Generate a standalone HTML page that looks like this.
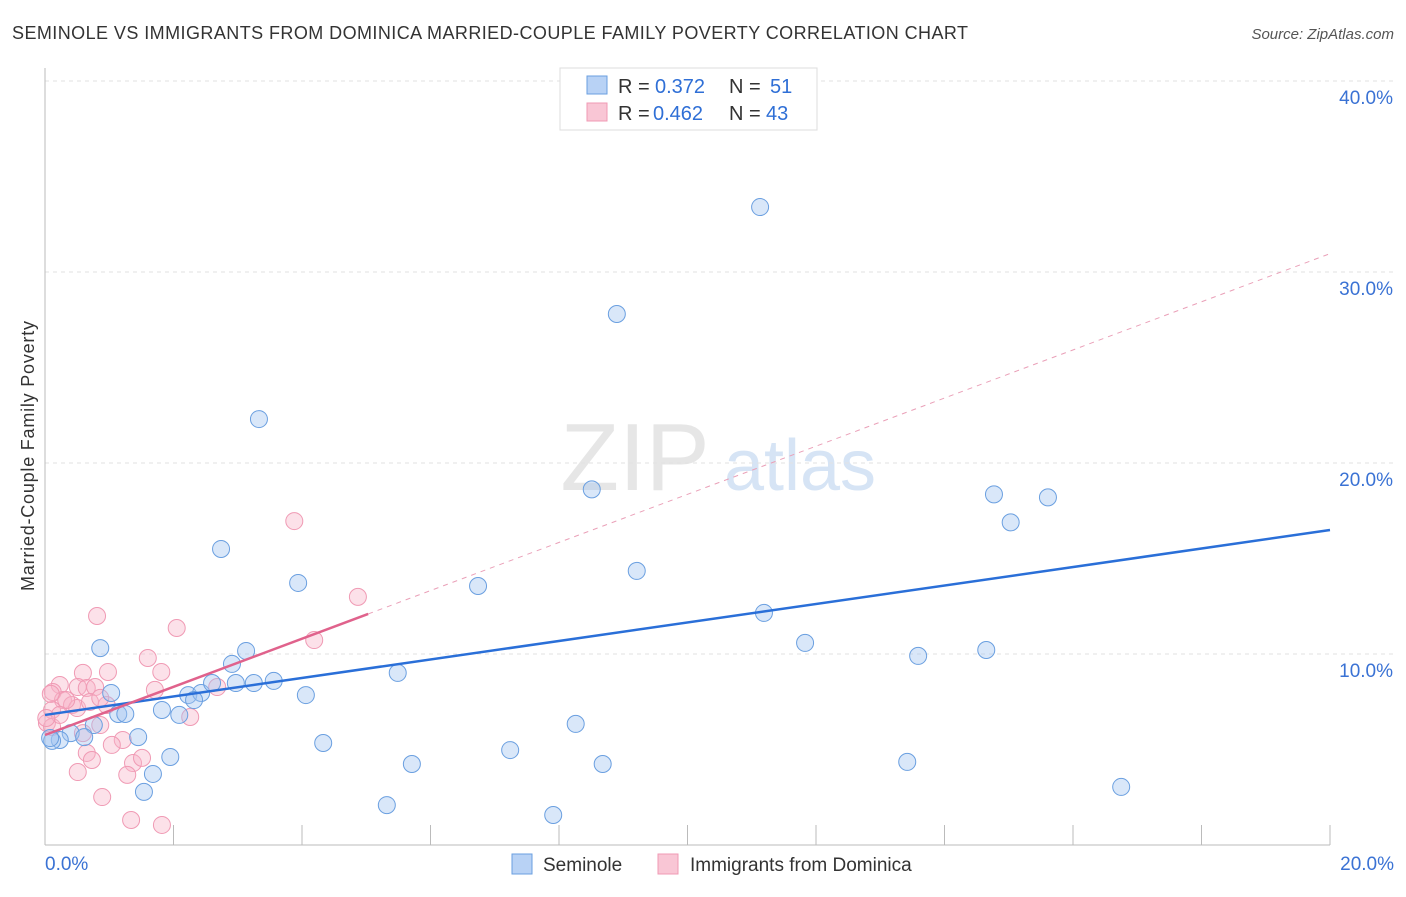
<!DOCTYPE html>
<html><head><meta charset="utf-8"><style>
body{margin:0;background:#fff;font-family:"Liberation Sans",sans-serif;}
svg text{font-family:"Liberation Sans",sans-serif;}
</style></head><body>
<svg id="chart" width="1406" height="892" xmlns="http://www.w3.org/2000/svg">
<text x="12" y="39" font-size="18" fill="#333" textLength="956" lengthAdjust="spacing">SEMINOLE VS IMMIGRANTS FROM DOMINICA MARRIED-COUPLE FAMILY POVERTY CORRELATION CHART</text>
<text x="1394" y="39" font-size="15" fill="#555" text-anchor="end" font-style="italic">Source: ZipAtlas.com</text>
<text transform="translate(34,456) rotate(-90)" font-size="18" fill="#333" text-anchor="middle" textLength="270">Married-Couple Family Poverty</text>
<g><text x="635" y="490" font-size="96" fill="#e6e6e6" font-family="Liberation Serif" text-anchor="middle">ZIP</text><text x="800" y="490" font-size="72" fill="#d6e4f5" text-anchor="middle">atlas</text></g>
<g id="grid"></g><g id="axes"></g><g id="trend"></g><g id="pts"></g>
<g>
<rect x="560" y="68" width="257" height="62" fill="#fff" stroke="#ddd"/>
<rect x="587" y="76" width="20" height="18" fill="#b8d2f5" stroke="#6a9fe0"/>
<text x="618" y="93" font-size="20" fill="#333">R =</text><text x="655" y="93" font-size="20" fill="#2f6fd6">0.372</text>
<text x="729" y="93" font-size="20" fill="#333">N =</text><text x="770" y="93" font-size="20" fill="#2f6fd6">51</text>
<rect x="587" y="103" width="20" height="18" fill="#f9c6d5" stroke="#f09ab4"/>
<text x="618" y="120" font-size="20" fill="#333">R =</text><text x="653" y="120" font-size="20" fill="#2f6fd6">0.462</text>
<text x="729" y="120" font-size="20" fill="#333">N =</text><text x="766" y="120" font-size="20" fill="#2f6fd6">43</text>
</g>
<g>
<rect x="512" y="854" width="20" height="20" fill="#b8d2f5" stroke="#6a9fe0"/>
<text x="543" y="871" font-size="19" fill="#333">Seminole</text>
<rect x="658" y="854" width="20" height="20" fill="#f9c6d5" stroke="#f09ab4"/>
<text x="690" y="871" font-size="19" fill="#333">Immigrants from Dominica</text>
</g>
</svg>
<script>
const xTicks=[0,20];
const yTicks=[10,20,30,40];
const seminoleX=[11.13,8.90,3.33,8.51,14.77,15.61,15.03,2.74,9.21,3.94,6.74,11.19,0.86,11.83,3.13,13.59,14.65,2.91,5.49,1.03,2.23,2.43,2.60,2.97,3.25,3.56,4.06,2.32,1.82,1.14,1.25,2.09,8.26,0.76,0.40,1.45,0.23,0.11,0.61,4.33,7.24,1.95,5.71,8.68,13.42,1.68,1.54,16.75,5.32,7.91,0.08];
const seminoleY=[33.40,27.80,22.30,18.62,18.36,18.20,16.89,15.50,14.35,13.72,13.56,12.15,10.31,10.58,10.16,9.90,10.21,9.48,9.01,7.96,7.85,7.96,8.48,8.48,8.48,8.59,7.85,7.59,7.07,6.86,6.86,6.81,6.34,6.28,5.86,5.65,5.50,5.45,5.65,5.34,4.97,4.61,4.24,4.24,4.35,3.72,2.78,3.04,2.09,1.57,5.60];
const dominicaX=[0.81,2.05,4.87,4.19,0.59,0.98,1.60,1.81,0.23,0.51,0.65,0.78,1.71,2.68,0.12,0.28,0.42,0.50,0.96,0.11,0.86,2.26,0.03,0.11,0.59,1.21,1.04,0.65,0.73,1.37,1.51,0.51,1.28,0.89,1.34,1.82,3.88,0.33,0.70,0.09,0.23,0.86,0.02];
const dominicaY=[11.99,11.36,12.99,10.73,9.01,9.06,9.79,9.06,8.38,8.27,8.22,8.27,8.12,8.27,8.01,7.59,7.33,7.17,7.33,7.07,6.28,6.70,6.39,6.18,5.86,5.50,5.24,4.82,4.45,4.29,4.56,3.82,3.67,2.51,1.31,1.05,16.96,7.59,7.49,7.91,6.81,7.70,6.65];
const seminoleTrend=[6.81,16.49]; // y at x=0 and x=20
const dominicaTrend=[5.76,30.96]; // y at x=0 and x=20
const dominicaSolidEnd=5.03;
const NS='http://www.w3.org/2000/svg';
const X=v=>45+v/20*1285, Y=v=>845-v*19.1;
function mk(tag,attrs,parent){const e=document.createElementNS(NS,tag);for(const k in attrs)e.setAttribute(k,attrs[k]);document.getElementById(parent).appendChild(e);return e;}
yTicks.forEach(t=>{
 const l=mk('line',{x1:45,x2:1393,y1:Y(t),y2:Y(t),stroke:'#e2e2e2','stroke-dasharray':'4,4'},'grid');
 
 
 const tx=mk('text',{x:1393,y:Y(t)+23,'font-size':19,fill:'#3a72d4','text-anchor':'end'},'grid');tx.textContent=t.toFixed(1)+'%';
 
 
});
mk('line',{x1:45,x2:45,y1:68,y2:845,stroke:'#bbb'},'axes');
mk('line',{x1:45,x2:1330,y1:845,y2:845,stroke:'#bbb'},'axes');
for(let i=1;i<=10;i++){mk('line',{x1:X(i*2),x2:X(i*2),y1:825,y2:845,stroke:'#bbb'},'axes');}
xTicks.forEach((t,i)=>{const tx=mk('text',{x:i?1394:45,y:870,'font-size':19,fill:'#3a72d4','text-anchor':i?'end':'start'},'axes');tx.textContent=t.toFixed(1)+'%';
 
 });
const sd=(dominicaTrend[1]-dominicaTrend[0])/20;
const pd=mk('line',{x1:X(dominicaSolidEnd),y1:Y(dominicaTrend[0]+sd*dominicaSolidEnd),x2:X(20),y2:Y(dominicaTrend[1]),stroke:'#eaa0b8','stroke-width':1,'stroke-dasharray':'5,5'},'trend');


function pts(xs,ys,fill,stroke,name){xs.forEach((x,i)=>{const c=mk('circle',{cx:X(x),cy:Y(ys[i]),r:8.5,fill:fill,stroke:stroke,'stroke-width':1},'pts');
 
 });}
pts(dominicaX,dominicaY,'rgba(248,180,200,0.4)','#f09ab4','dominica-point');
pts(seminoleX,seminoleY,'rgba(160,196,240,0.4)','#6a9fe0','seminole-point');
const bl=mk('line',{x1:X(0),y1:Y(seminoleTrend[0]),x2:X(20),y2:Y(seminoleTrend[1]),stroke:'#2a6fd8','stroke-width':2.5},'pts');


const pl=mk('line',{x1:X(0),y1:Y(dominicaTrend[0]),x2:X(dominicaSolidEnd),y2:Y(dominicaTrend[0]+sd*dominicaSolidEnd),stroke:'#e0628c','stroke-width':2.5},'pts');


</script>
</body></html>
